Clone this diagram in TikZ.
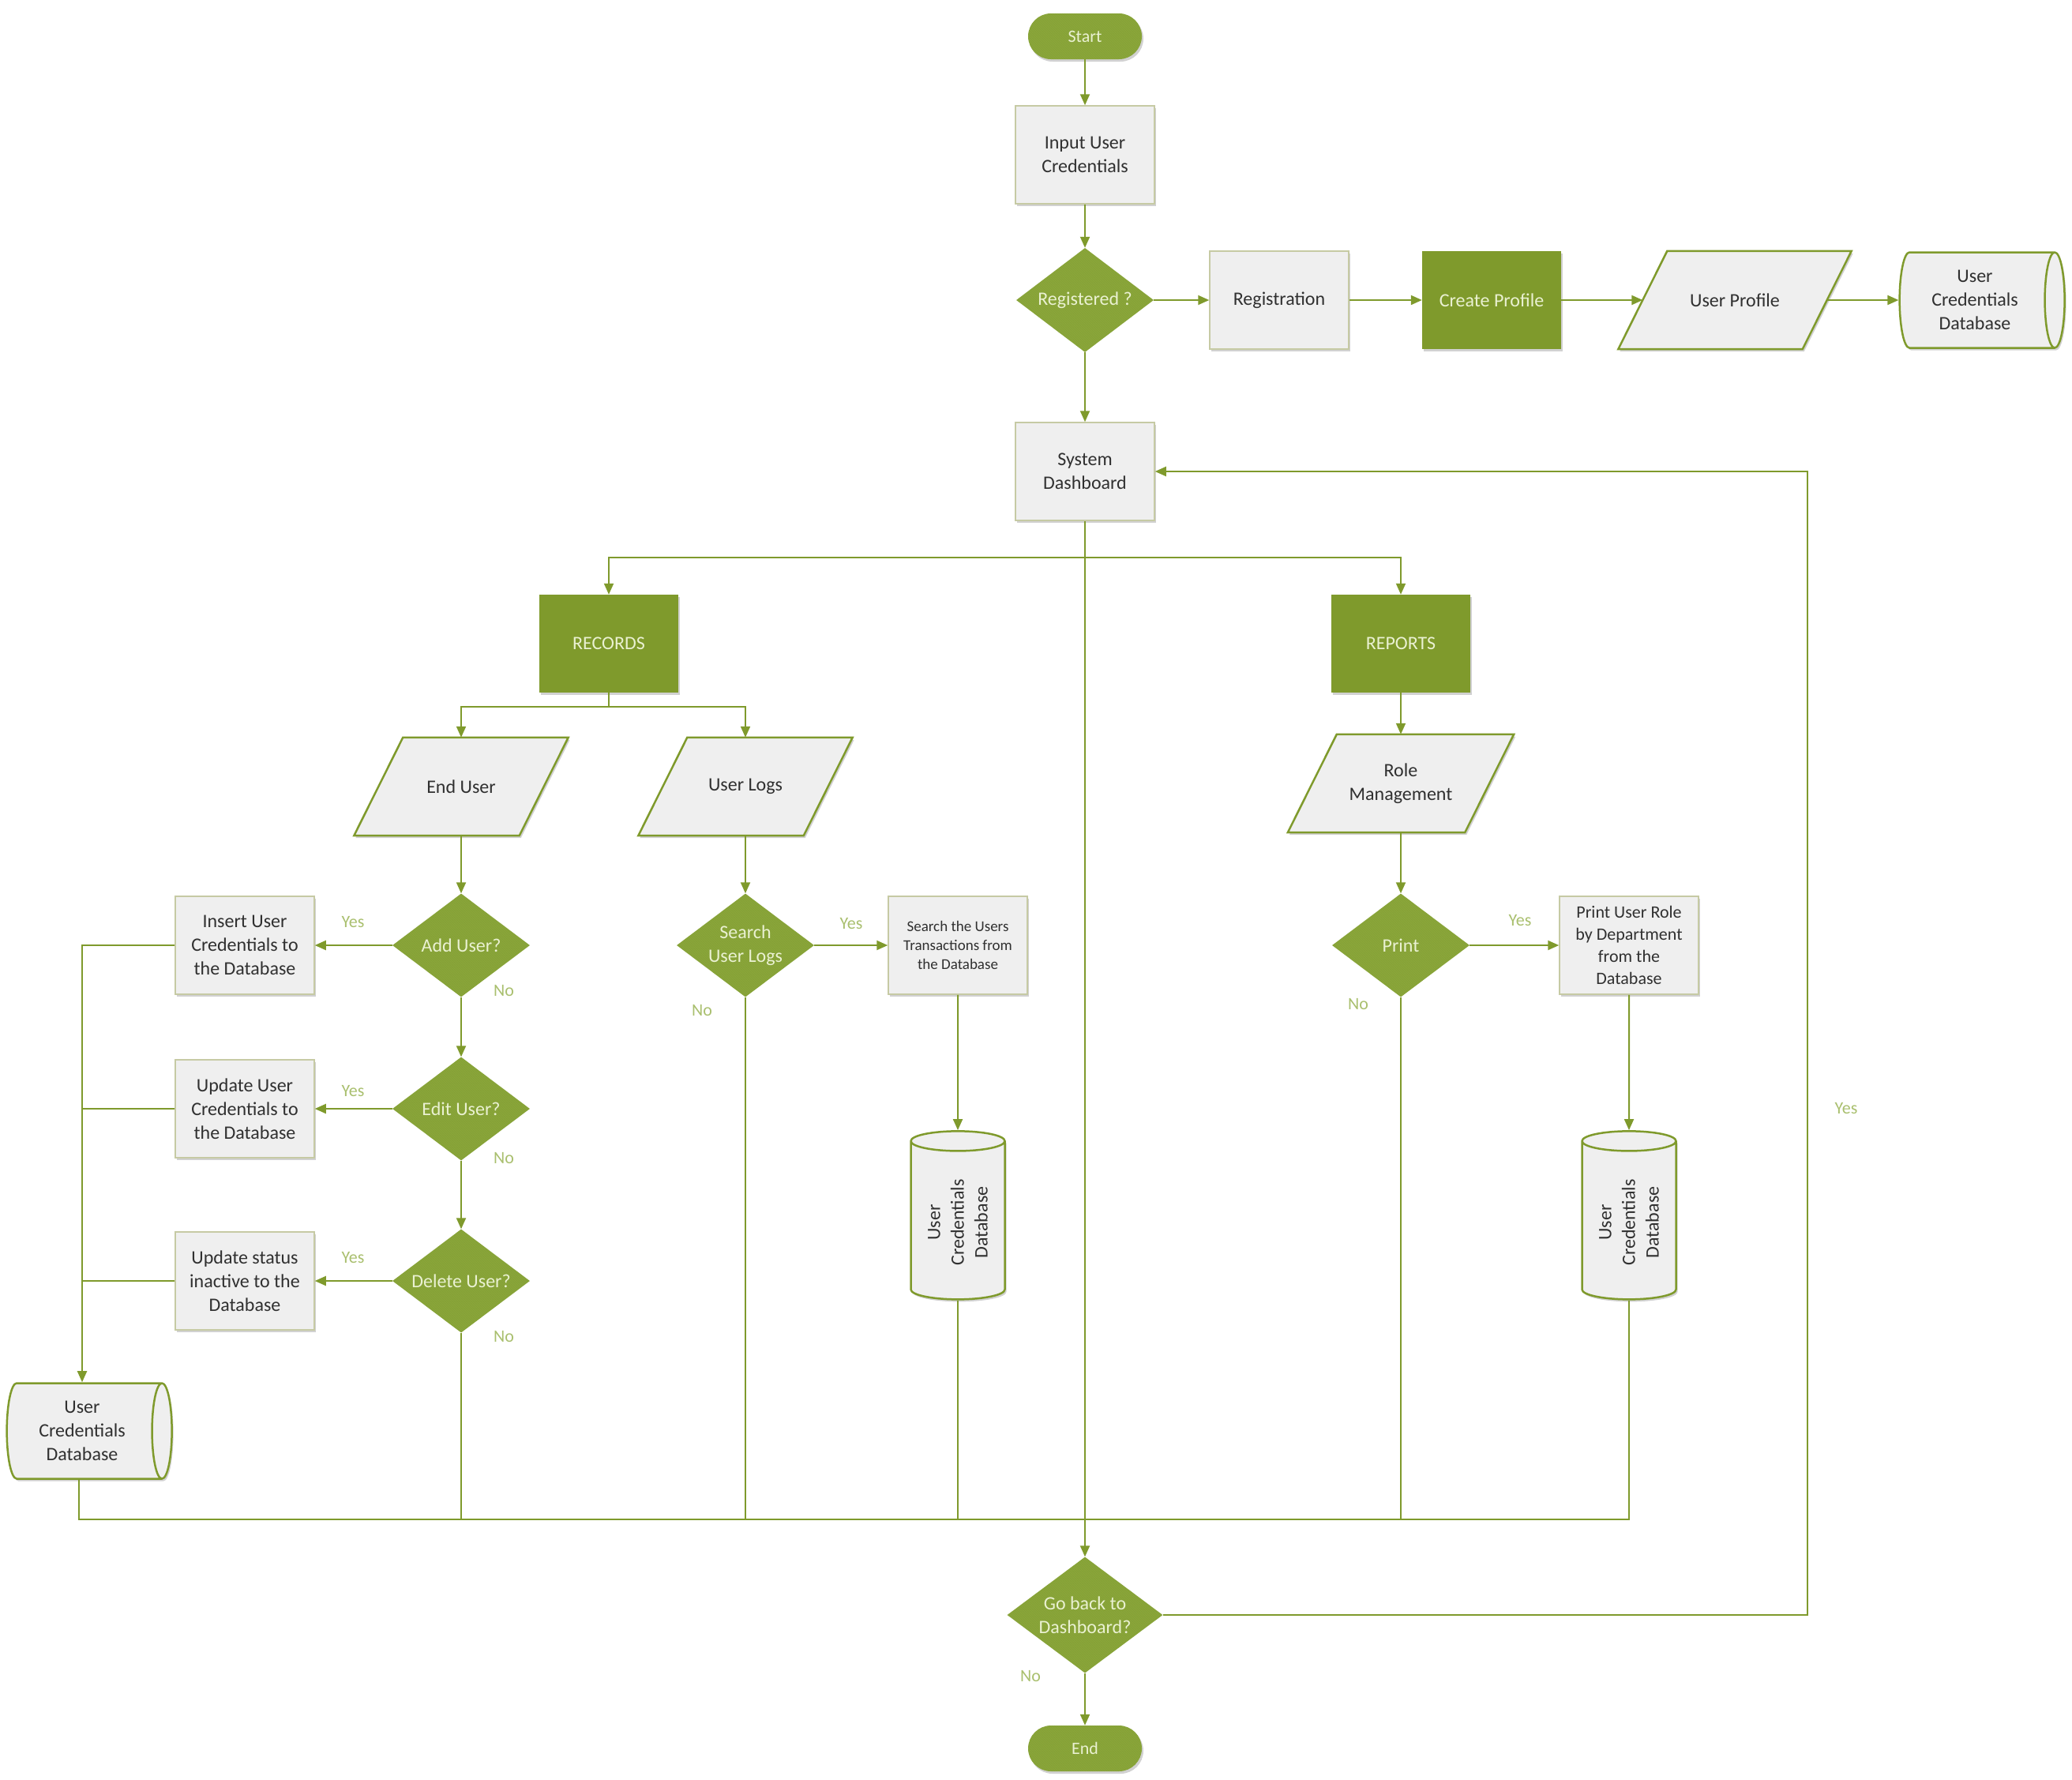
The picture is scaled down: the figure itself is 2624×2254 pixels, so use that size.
\documentclass[tikz,border=0pt]{standalone}
\usepackage{fontspec}
\setmainfont{Carlito}
\usetikzlibrary{shapes.geometric,arrows.meta,shadows,calc,patterns}

\definecolor{olive}{HTML}{7F9A2C}
\definecolor{diamondfill}{HTML}{8AA63A}
\definecolor{boxfill}{HTML}{EFEFEF}
\definecolor{boxline}{HTML}{C6CAA4}
\definecolor{paletext}{HTML}{EAF1D2}
\definecolor{lbltext}{HTML}{A9BF6E}
\definecolor{darktext}{HTML}{303030}

\pgfdeclarelayer{background}
\pgfsetlayers{background,main}

\tikzset{
  base/.style={font=\fontsize{24}{30}\selectfont, align=center, inner sep=4pt},
  softshadow/.style={drop shadow={shadow xshift=2pt, shadow yshift=-3pt, opacity=.18, fill=black}},
  hatch/.style={postaction={pattern=north west lines, pattern color=olive!70!black, opacity=.12}},
  procbox/.style={base, rectangle, fill=boxfill, draw=boxline, line width=1.5pt,
    minimum width=176pt, minimum height=124pt, text=darktext, softshadow},
  greenbox/.style={base, rectangle, fill=olive, text=paletext,
    minimum width=176pt, minimum height=124pt, softshadow},
  term/.style={base, rectangle, rounded corners=29pt, fill=diamondfill, text=paletext,
    minimum width=144pt, minimum height=58pt, font=\fontsize{22}{26}\selectfont, softshadow, hatch},
  decision/.style={base, diamond, aspect=1.33, fill=diamondfill, text=paletext,
    minimum width=174pt, minimum height=131pt, inner sep=0pt, hatch},
  % text holder of a slanted data box; the outline is drawn by \ioshape
  io/.style={base, rectangle, minimum height=124pt, text=darktext},
  ioline/.style={fill=boxfill, draw=olive, line width=2.5pt, softshadow},
  dbh/.style={base, cylinder, aspect=0.3, minimum height=209pt, minimum width=121pt,
    draw=olive, line width=2.5pt, fill=boxfill, text=darktext, softshadow},
  dbv/.style={dbh, rotate=90, minimum height=213pt, minimum width=119pt},
  line/.style={draw=olive, line width=2pt},
  arr/.style={line, -{Triangle[length=14pt,width=12pt]}},
  lbl/.style={font=\fontsize{22}{26}\selectfont, text=lbltext, inner sep=0pt},
}

% slanted outline behind a data node: #1 node name, #2 half of the slant offset
\newcommand{\ioshape}[2]{%
  \begin{pgfonlayer}{background}
    \path[ioline] ([xshift=#2]#1.north west) -- ([xshift=#2]#1.north east)
      -- ([xshift=-#2]#1.south east) -- ([xshift=-#2]#1.south west) -- cycle;
  \end{pgfonlayer}}

\begin{document}
\begin{tikzpicture}[x=1pt,y=-1pt]
\useasboundingbox (0,0) rectangle (2624,2254);

% ---- login and registration ----
\node[term] (start) at (1374,46) {Start};
\node[procbox] (input) at (1374,196) {Input User\\Credentials};
\node[decision, minimum width=174pt, minimum height=132pt] (reg) at (1374,380) {Registered ?};
\node[procbox] (registration) at (1620,380) {Registration};
\node[greenbox] (create) at (1889,380) {Create Profile};
\node[io, minimum width=233pt] (uprof) at (2197,380) {User Profile};
\ioshape{uprof}{31pt}
\node[dbh] (db1) at (2501,380) {User\\Credentials\\Database};
\node[procbox] (dash) at (1374,597) {System\\Dashboard};

% ---- modules ----
\node[greenbox] (records) at (771,815) {RECORDS};
\node[greenbox] (reports) at (1774,815) {REPORTS};
\node[io, minimum width=209pt] (enduser) at (584,996) {End User};
\ioshape{enduser}{31pt}
\node[io, minimum width=209pt] (userlogs) at (944,996) {User Logs};
\ioshape{userlogs}{31pt}
\node[io, minimum width=224pt] (role) at (1774,992) {Role\\Management};
\ioshape{role}{31pt}

% ---- end user branch ----
\node[decision] (adduser) at (584,1197) {Add User?};
\node[procbox] (insert) at (310,1197) {Insert User\\Credentials to\\the Database};
\node[decision] (edituser) at (584,1404) {Edit User?};
\node[procbox] (update1) at (310,1404) {Update User\\Credentials to\\the Database};
\node[decision] (deluser) at (584,1622) {Delete User?};
\node[procbox] (update2) at (310,1622) {Update status\\inactive to the\\Database};
\node[dbh] (dbl) at (104,1812) {User\\Credentials\\Database};

% ---- user logs branch ----
\node[decision] (search) at (944,1197) {Search\\User Logs};
\node[procbox, font=\fontsize{19}{24}\selectfont] (searchbox) at (1213,1197) {Search the Users\\Transactions from\\the Database};
\node[dbv] (mdb) at (1213,1548) {User\\Credentials\\Database};

% ---- reports branch ----
\node[decision] (print) at (1774,1197) {Print};
\node[procbox, font=\fontsize{22}{28}\selectfont] (printbox) at (2063,1197) {Print User Role\\by Department\\from the\\Database};
\node[dbv] (rdb) at (2063,1548) {User\\Credentials\\Database};

% ---- exit ----
\node[decision, minimum width=197pt, minimum height=147pt, aspect=1.34] (goback) at (1374,2045) {Go back to\\Dashboard?};
\node[term] (endn) at (1374,2214) {End};

% ---- junction points ----
\coordinate (split) at (1374,706);
\coordinate (merge) at (1374,1924);
\coordinate (loop) at (2289,2045);
\coordinate (lbus) at (dbl.north);

% ---- connectors ----
\draw[arr] (start) -- (input);
\draw[arr] (input) -- (reg);
\draw[arr] (reg) -- (registration);
\draw[arr] (registration) -- (create);
\draw[arr] (create) -- (uprof);
\draw[arr] (uprof) -- (db1);
\draw[arr] (reg) -- (dash);

\draw[arr] (dash) -- (goback);
\draw[arr] (split) -| (records);
\draw[arr] (split) -| (reports);

\draw[arr] (records.south) -- ++(0,18) -| (enduser.north);
\draw[arr] (records.south) -- ++(0,18) -| (userlogs.north);
\draw[arr] (reports) -- (role);

\draw[arr] (enduser) -- (adduser);
\draw[arr] (adduser) -- (insert);
\draw[arr] (adduser) -- (edituser);
\draw[arr] (edituser) -- (update1);
\draw[arr] (edituser) -- (deluser);
\draw[arr] (deluser) -- (update2);
\draw[arr] (insert.west) -| (lbus);
\draw[line] (update1.west) -- (update1.west -| lbus);
\draw[line] (update2.west) -- (update2.west -| lbus);

\draw[arr] (userlogs) -- (search);
\draw[arr] (search) -- (searchbox);
\draw[arr] (searchbox) -- (mdb);

\draw[arr] (role) -- (print);
\draw[arr] (print) -- (printbox);
\draw[arr] (printbox) -- (rdb);

% collecting line towards the exit decision
\draw[line] ([xshift=-4pt]dbl.south) |- (rdb.west |- merge) -- (rdb.west);
\draw[line] (deluser.south) -- (deluser.south |- merge);
\draw[line] (search.south) -- (search.south |- merge);
\draw[line] (mdb.west) -- (mdb.west |- merge);
\draw[line] (print.south) -- (print.south |- merge);

\draw[arr] (goback) -- (endn);
\draw[arr] (goback.east) -- (loop) |- (dash.east);

% ---- branch labels ----
\node[lbl] (yes1) at (447,1168) {Yes};
\node[lbl] (no1) at (638,1255) {No};
\node[lbl] (yes2) at (447,1382) {Yes};
\node[lbl] (no2) at (638,1466) {No};
\node[lbl] (yes3) at (447,1593) {Yes};
\node[lbl] (no3) at (638,1692) {No};
\node[lbl] (yes4) at (1078,1170) {Yes};
\node[lbl] (no4) at (889,1280) {No};
\node[lbl] (yes5) at (1925,1166) {Yes};
\node[lbl] (no5) at (1720,1272) {No};
\node[lbl] (yes6) at (2338,1404) {Yes};
\node[lbl] (no6) at (1305,2122) {No};
\end{tikzpicture}
\end{document}
